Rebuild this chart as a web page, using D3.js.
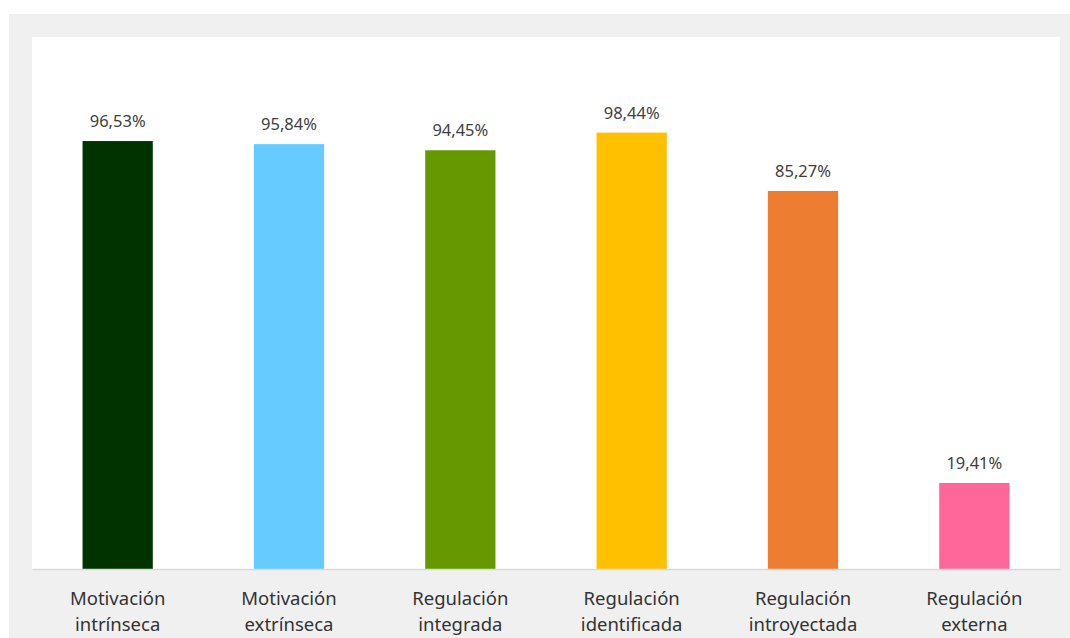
<!DOCTYPE html>
<html>
<head>
<meta charset="utf-8">
<script src="https://cdn.jsdelivr.net/npm/d3@7"></script>
<style>
  body { margin: 0; background: #ffffff; }
  text { font-family: "Noto Sans", "Open Sans", sans-serif; }
</style>
</head>
<body>
<svg width="1070" height="638"></svg>
<script>
// categories, each split into two lines like the original labels
var categorias = [
  ["Motivación", "intrínseca"],
  ["Motivación", "extrínseca"],
  ["Regulación", "integrada"],
  ["Regulación", "identificada"],
  ["Regulación", "introyectada"],
  ["Regulación", "externa"]
];
var valores = [96.53, 95.84, 94.45, 98.44, 85.27, 19.41];
var etiquetas = ["96,53%", "95,84%", "94,45%", "98,44%", "85,27%", "19,41%"];
var cores = ["#003300", "#66ccff", "#669900", "#ffc000", "#ed7d31", "#ff6699"];

var svg = d3.select("svg");

// gray frame and white plot area
svg.append("rect").attr("x", 9).attr("y", 14).attr("width", 1061).attr("height", 624).attr("fill", "#f0f0f0");
svg.append("rect").attr("x", 32).attr("y", 37).attr("width", 1028).attr("height", 532).attr("fill", "#ffffff");

var margin = {top: 37, left: 32},
    width = 1028,
    height = 532;

var g = svg.append("g").attr("transform", "translate(" + margin.left + "," + margin.top + ")");

var indices = d3.range(valores.length);

var x = d3.scaleBand()
    .domain(indices)
    .range([0, width])
    .paddingInner(0.59)
    .paddingOuter(0.295);

var y = d3.scaleLinear()
    .domain([0, 120])
    .range([height, 0]);

g.selectAll(".barra")
    .data(indices)
    .enter().append("rect")
    .attr("class", "barra")
    .attr("x", function(i) { return x(i); })
    .attr("y", function(i) { return y(valores[i]); })
    .attr("width", x.bandwidth())
    .attr("height", function(i) { return y(0) - y(valores[i]); })
    .attr("fill", function(i) { return cores[i]; });

g.selectAll(".valor")
    .data(indices)
    .enter().append("text")
    .attr("class", "valor")
    .attr("x", function(i) { return x(i) + x.bandwidth() / 2; })
    .attr("y", function(i) { return y(valores[i]) - 14; })
    .attr("text-anchor", "middle")
    .attr("fill", "#404040")
    .style("font-size", "16.5px")
    .text(function(i) { return etiquetas[i]; });

// x axis: baseline plus two-line labels
var eixoX = g.append("g")
    .attr("transform", "translate(0," + height + ")")
    .call(d3.axisBottom(x).tickSize(0).tickFormat(""));
eixoX.select(".domain").attr("stroke", "#d9d9d9").attr("stroke-width", 1.5);

eixoX.selectAll(".tick").each(function(i) {
  var t = d3.select(this).append("text")
      .attr("text-anchor", "middle")
      .attr("fill", "#333333")
      .style("font-size", "18.5px");
  t.append("tspan").attr("x", 0).attr("y", 36).text(categorias[i][0]);
  t.append("tspan").attr("x", 0).attr("y", 62).text(categorias[i][1]);
});
</script>
</body>
</html>
